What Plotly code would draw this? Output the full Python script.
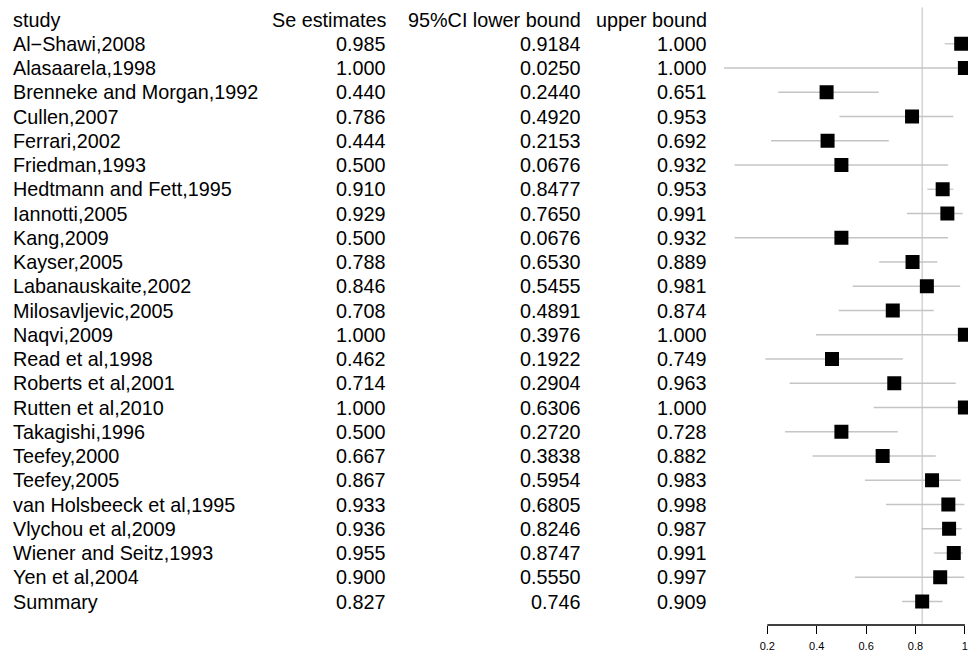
import plotly.graph_objects as go

studies = ["Al\u2212Shawi,2008", "Alasaarela,1998", "Brenneke and Morgan,1992", "Cullen,2007",
           "Ferrari,2002", "Friedman,1993", "Hedtmann and Fett,1995", "Iannotti,2005",
           "Kang,2009", "Kayser,2005", "Labanauskaite,2002", "Milosavljevic,2005",
           "Naqvi,2009", "Read et al,1998", "Roberts et al,2001", "Rutten et al,2010",
           "Takagishi,1996", "Teefey,2000", "Teefey,2005", "van Holsbeeck et al,1995",
           "Vlychou et al,2009", "Wiener and Seitz,1993", "Yen et al,2004", "Summary"]
se = [0.985, 1.000, 0.440, 0.786, 0.444, 0.500, 0.910, 0.929, 0.500, 0.788, 0.846, 0.708,
      1.000, 0.462, 0.714, 1.000, 0.500, 0.667, 0.867, 0.933, 0.936, 0.955, 0.900, 0.827]
lower = [0.9184, 0.0250, 0.2440, 0.4920, 0.2153, 0.0676, 0.8477, 0.7650, 0.0676, 0.6530,
         0.5455, 0.4891, 0.3976, 0.1922, 0.2904, 0.6306, 0.2720, 0.3838, 0.5954, 0.6805,
         0.8246, 0.8747, 0.5550, 0.746]
upper = [1.000, 1.000, 0.651, 0.953, 0.692, 0.932, 0.953, 0.991, 0.932, 0.889, 0.981, 0.874,
         1.000, 0.749, 0.963, 1.000, 0.728, 0.882, 0.983, 0.998, 0.987, 0.991, 0.997, 0.909]
headers = ["study", "Se estimates", "95%CI lower bound", "upper bound"]
tick_vals = [0.2, 0.4, 0.6, 0.8, 1.0]
tick_text = ["0.2", "0.4", "0.6", "0.8", "1"]

summary_value = se[-1]
rows = list(range(1, len(studies) + 1))  # header at row 0

W, H = 968, 656
left_px = 710
FONT = "Liberation Sans, Arial, Helvetica, sans-serif"
FS = 19.8

fig = go.Figure()

# CI lines
lx, ly = [], []
for r, lo, hi in zip(rows, lower, upper):
    lx += [lo, hi, None]
    ly += [r, r, None]
fig.add_trace(go.Scatter(x=lx, y=ly, mode="lines",
                         line=dict(color="#c4c4c4", width=1.3),
                         hoverinfo="skip", showlegend=False))
# squares
fig.add_trace(go.Scatter(x=se, y=rows, mode="markers",
                         marker=dict(symbol="square", size=14, color="black",
                                     line=dict(width=0)),
                         showlegend=False))

# vertical summary reference line
fig.add_shape(type="line", xref="x", yref="y", x0=summary_value, x1=summary_value,
              y0=-0.5, y1=rows[-1] + 0.96, line=dict(color="#bdbdbd", width=1), layer="below")
# R-style axis line from first to last tick
fig.add_shape(type="line", xref="x", yref="paper", x0=tick_vals[0], x1=tick_vals[-1],
              y0=0, y1=0, line=dict(color="black", width=1.3))

# table text
col_right = [388, 583, 709]
ann = []
ann.append(dict(x=11, y=0, xref="x2", yref="y", text=headers[0], xanchor="left",
                yanchor="middle", showarrow=False))
for cx, h in zip(col_right, headers[1:]):
    ann.append(dict(x=cx, y=0, xref="x2", yref="y", text=h, xanchor="right",
                    yanchor="middle", showarrow=False))
n = len(studies)
for i, (r, s, e, lo, hi) in enumerate(zip(rows, studies, se, lower, upper)):
    lo_txt = f"{lo:.3f}" if i == n - 1 else f"{lo:.4f}"
    ann.append(dict(x=11, y=r, xref="x2", yref="y", text=s, xanchor="left",
                    yanchor="middle", showarrow=False))
    for cx, t in zip(col_right, [f"{e:.3f}", lo_txt, f"{hi:.3f}"]):
        ann.append(dict(x=cx, y=r, xref="x2", yref="y", text=t, xanchor="right",
                        yanchor="middle", showarrow=False))
fig.update_layout(annotations=ann)

# geometry: row pixel = 19.5 + 24.25*row ; plot bottom at 625
bottom_px = 625
row0, drow = 19.5, 24.25
y_top = (0 - row0) / drow
y_bot = (bottom_px - row0) / drow
# x: value 0 at 717.9 px, 247 px per unit
x0px, xscale = 717.9, 247.0
x_lo = (left_px - x0px) / xscale
x_hi = (W - x0px) / xscale

fig.update_layout(
    width=W, height=H,
    margin=dict(l=0, r=0, t=0, b=H - bottom_px, pad=0),
    paper_bgcolor="white", plot_bgcolor="white",
    font=dict(family=FONT, size=FS, color="black"),
    xaxis=dict(domain=[left_px / W, 1], range=[x_lo, x_hi], showgrid=False, zeroline=False,
               showline=False, ticks="outside", ticklen=8, tickwidth=1.3, tickcolor="black",
               tickvals=tick_vals, ticktext=tick_text, ticklabelstandoff=3,
               tickfont=dict(size=11, family=FONT, color="black")),
    xaxis2=dict(domain=[0, left_px / W], range=[0, left_px], visible=False, anchor="y"),
    yaxis=dict(range=[y_bot, y_top], visible=False, showgrid=False, zeroline=False),
    showlegend=False,
)

fig.write_html("out.html", config={"displayModeBar": False},
               post_script="document.body.style.margin='0';document.body.style.overflow='hidden';")
